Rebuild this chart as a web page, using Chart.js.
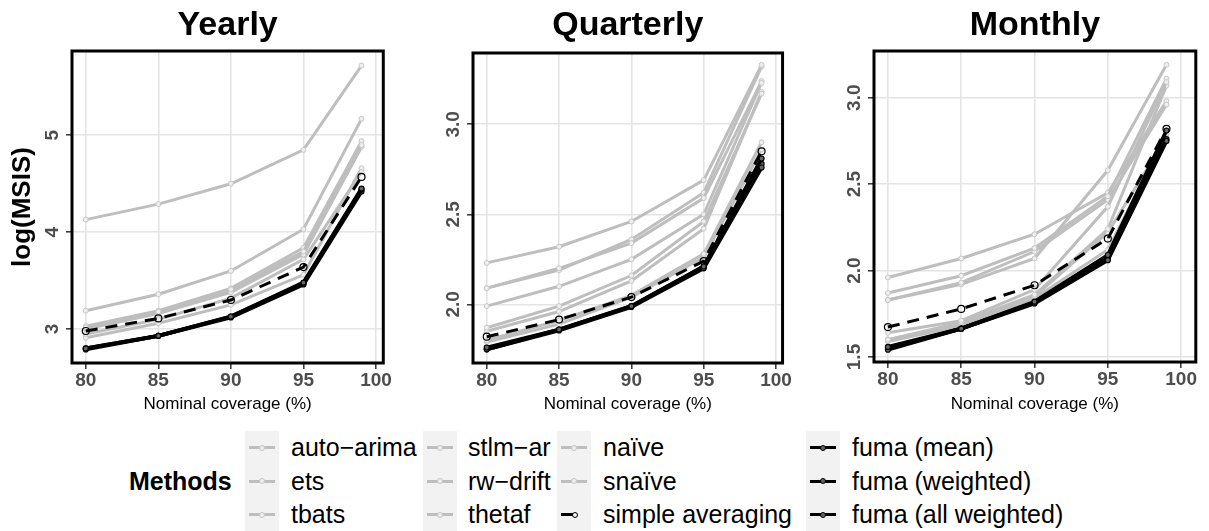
<!DOCTYPE html>
<html>
<head>
<meta charset="utf-8">
<script src="https://cdn.jsdelivr.net/npm/chart.js@4.4.1/dist/chart.umd.min.js"></script>
<style>
  body { margin: 0; background: #fff; width: 1209px; height: 531px; overflow: hidden; position: relative;
         font-family: "Liberation Sans", Arial, Helvetica, sans-serif; }
  canvas { position: absolute; top: 0; }
  .lg { position: absolute; height: 33.5px; line-height: 33.5px; font-size: 25px; color: #000; white-space: nowrap; }
  .lg-title { font-weight: bold; }
  .keybox { position: absolute; background: #F2F2F2; width: 34px; }
  .key { position: absolute; width: 34px; height: 33.5px; }
  .key .ln { position: absolute; left: 4px; width: 26px; top: 15.25px; height: 3px; }
  .key .dt { position: absolute; left: 14px; top: 13.75px; width: 4px; height: 4px; border-radius: 50%; border: 1px solid; }
</style>
</head>
<body>
<canvas id="yearly" width="392" height="420" style="left:0px"></canvas>
<canvas id="quarterly" width="392" height="420" style="left:400px"></canvas>
<canvas id="monthly" width="401" height="420" style="left:800px"></canvas>
<div id="legend"></div>

<script>
const coverage = [80, 85, 90, 95, 99];
const xTicks = [80, 85, 90, 95, 100];

const methods = ['auto\u2212arima', 'ets', 'tbats', 'stlm\u2212ar', 'rw\u2212drift', 'thetaf',
                 'naïve', 'snaïve', 'simple averaging', 'fuma (mean)', 'fuma (weighted)', 'fuma (all weighted)'];

// one row per method, same order as `methods`
const yearlyValues = [
    [3.02, 3.18, 3.41, 3.80, 4.90],
    [3.00, 3.16, 3.38, 3.77, 4.88],
    [2.95, 3.10, 3.32, 3.72, 4.62],
    [3.03, 3.19, 3.42, 3.84, 4.94],
    [3.19, 3.36, 3.60, 4.03, 5.17],
    [2.91, 3.06, 3.25, 3.56, 4.66],
    [4.13, 4.29, 4.50, 4.85, 5.72],
    [3.01, 3.17, 3.39, 3.78, 4.89],
    [2.98, 3.11, 3.30, 3.64, 4.57],
    [2.80, 2.93, 3.13, 3.48, 4.45],
    [2.80, 2.93, 3.13, 3.47, 4.44],
    [2.79, 2.93, 3.12, 3.46, 4.42]
];
const quarterlyValues = [
    [1.87, 1.99, 2.16, 2.46, 3.17],
    [1.85, 1.96, 2.13, 2.42, 3.18],
    [1.80, 1.91, 2.05, 2.28, 2.90],
    [1.99, 2.10, 2.25, 2.50, 3.23],
    [2.09, 2.20, 2.34, 2.59, 3.24],
    [1.79, 1.89, 2.04, 2.26, 2.86],
    [2.23, 2.32, 2.46, 2.69, 3.33],
    [2.09, 2.19, 2.36, 2.62, 3.32],
    [1.82, 1.915, 2.04, 2.24, 2.85],
    [1.76, 1.86, 1.99, 2.21, 2.81],
    [1.75, 1.855, 1.985, 2.20, 2.76],
    [1.75, 1.86, 1.99, 2.21, 2.78]
];
const monthlyValues = [
    [1.64, 1.71, 1.89, 2.37, 3.09],
    [1.60, 1.70, 1.86, 2.24, 3.07],
    [1.60, 1.69, 1.85, 2.22, 2.77],
    [1.59, 1.68, 1.84, 2.12, 2.79],
    [1.87, 1.97, 2.13, 2.43, 3.11],
    [1.83, 1.93, 2.11, 2.41, 2.96],
    [1.96, 2.07, 2.21, 2.45, 2.98],
    [1.83, 1.92, 2.07, 2.58, 3.19],
    [1.673, 1.778, 1.915, 2.185, 2.82],
    [1.558, 1.664, 1.82, 2.09, 2.81],
    [1.542, 1.664, 1.81, 2.06, 2.75],
    [1.55, 1.664, 1.815, 2.07, 2.76]
];

const yearlyYTicks = ['3', '4', '5'];
const quarterlyYTicks = ['2.0', '2.5', '3.0'];
const monthlyYTicks = ['1.5', '2.0', '2.5', '3.0'];

const FONT = '"Liberation Sans", Arial, Helvetica, sans-serif';
const GREY = '#BEBEBE';

// box, rotated y labels and panel title
const panelDecor = {
    id: 'panelDecor',
    afterDraw(chart, args, opts) {
        const {ctx, chartArea: {left, top, right, bottom}} = chart;
        const y = chart.scales.y;
        ctx.save();
        ctx.strokeStyle = '#000';
        ctx.lineWidth = 3;
        ctx.strokeRect(left, top, right - left, bottom - top);

        ctx.fillStyle = '#4D4D4D';
        ctx.font = 'bold 19px ' + FONT;
        ctx.textAlign = 'center';
        ctx.textBaseline = 'middle';
        opts.yLabels.forEach(lab => {
            const py = y.getPixelForValue(parseFloat(lab));
            ctx.save();
            ctx.translate(left - 19, py);
            ctx.rotate(-Math.PI / 2);
            ctx.fillText(lab, 0, 0);
            ctx.restore();
        });

        ctx.fillStyle = '#000';
        ctx.font = 'bold 34px ' + FONT;
        ctx.textBaseline = 'alphabetic';
        ctx.fillText(opts.title, (left + right) / 2, 35);
        ctx.restore();
    }
};

const makeDatasets = (values) => methods.map((m, i) => {
    const data = coverage.map((x, j) => ({x: x, y: values[i][j]}));
    if (i < 8) {
        return {label: m, data, borderColor: GREY, borderWidth: 3, order: 3,
                pointRadius: 2.5, pointBorderWidth: 1, pointBorderColor: '#C6C6C6', pointBackgroundColor: '#EEEEEE'};
    }
    if (i === 8) {
        return {label: m, data, borderColor: '#000', borderWidth: 3, borderDash: [12, 8], order: 2,
                pointRadius: 3.5, pointBorderWidth: 1.2, pointBorderColor: '#000', pointBackgroundColor: 'rgba(0,0,0,0)'};
    }
    return {label: m, data, borderColor: '#000', borderWidth: 3.8, order: 1,
            pointRadius: 2.5, pointBorderWidth: 1.2, pointBorderColor: '#000', pointBackgroundColor: '#666'};
});

const makePanel = (id, title, values, yLabels, yMin, yMax, xMax, yWidth, padTop, xHeight, yTitle) => {
    new Chart(document.getElementById(id), {
        type: 'line',
        data: {datasets: makeDatasets(values)},
        plugins: [panelDecor],
        options: {
            responsive: false,
            animation: false,
            layout: {padding: {top: padTop, right: 5, bottom: 0, left: 0}},
            plugins: {
                legend: {display: false},
                tooltip: {enabled: false},
                panelDecor: {title: title, yLabels: yLabels}
            },
            elements: {line: {tension: 0}},
            scales: {
                x: {
                    type: 'linear', min: 79.05, max: xMax,
                    afterBuildTicks: (s) => { s.ticks = xTicks.map(v => ({value: v})); },
                    afterFit: (s) => { s.height = xHeight; },
                    grid: {color: '#E4E4E4', lineWidth: 1.6, tickColor: '#333', tickLength: 6, tickWidth: 1.5},
                    border: {display: false},
                    ticks: {font: {family: FONT, size: 19, weight: 'bold'}, color: '#4D4D4D',
                            padding: 0, maxRotation: 0, autoSkip: false},
                    title: {display: true, text: 'Nominal coverage (%)', color: '#000',
                            font: {family: FONT, size: 17}, padding: {top: 0, bottom: 5.5}}
                },
                y: {
                    type: 'linear', min: yMin, max: yMax,
                    afterBuildTicks: (s) => { s.ticks = yLabels.map(v => ({value: parseFloat(v)})); },
                    afterFit: (s) => { s.width = yWidth; },
                    grid: {color: '#E4E4E4', lineWidth: 1.6, tickColor: '#333', tickLength: 6, tickWidth: 1.5},
                    border: {display: false},
                    ticks: {display: false},
                    title: {display: yTitle, text: 'log(MSIS)', color: '#000',
                            font: {family: FONT, size: 26, weight: 'bold'}, padding: {top: 7, bottom: 0}}
                }
            }
        }
    });
};

makePanel('yearly', 'Yearly', yearlyValues, yearlyYTicks, 2.65, 5.87, 100.5, 72, 51, 57, true);
makePanel('quarterly', 'Quarterly', quarterlyValues, quarterlyYTicks, 1.674, 3.396, 100.45, 73, 53, 57, false);
makePanel('monthly', 'Monthly', monthlyValues, monthlyYTicks, 1.471, 3.27, 101.0, 74, 51, 58, false);

// legend: 3 rows, filled column by column
const legend = document.getElementById('legend');
const keyLeft = [245, 423, 557, 806];
const textLeft = [291, 468, 603, 852];
const legendTop = 431;
const rowH = 33.5;

const title = document.createElement('div');
title.className = 'lg lg-title';
title.style.left = '129px';
title.style.top = (legendTop + rowH) + 'px';
title.textContent = 'Methods';
legend.appendChild(title);

keyLeft.forEach(x => {
    const b = document.createElement('div');
    b.className = 'keybox';
    b.style.left = x + 'px';
    b.style.top = legendTop + 'px';
    b.style.height = (rowH * 3) + 'px';
    legend.appendChild(b);
});

methods.forEach((m, i) => {
    const col = Math.floor(i / 3), row = i % 3;
    const top = legendTop + row * rowH;
    const key = document.createElement('div');
    key.className = 'key';
    key.style.left = keyLeft[col] + 'px';
    key.style.top = top + 'px';
    const ln = document.createElement('div');
    ln.className = 'ln';
    const dt = document.createElement('div');
    dt.className = 'dt';
    if (i < 8) {
        ln.style.background = GREY;
        dt.style.borderColor = '#C6C6C6';
        dt.style.background = '#EEEEEE';
    } else if (i === 8) {
        ln.style.background = '#000';
        ln.style.width = '12px';
        dt.style.borderColor = '#000';
        dt.style.background = '#F2F2F2';
        dt.style.left = '15px';
    } else {
        ln.style.background = '#000';
        dt.style.borderColor = '#000';
        dt.style.background = '#666';
    }
    key.appendChild(ln);
    key.appendChild(dt);
    legend.appendChild(key);

    const t = document.createElement('div');
    t.className = 'lg';
    t.style.left = textLeft[col] + 'px';
    t.style.top = top + 'px';
    t.textContent = m;
    legend.appendChild(t);
});
</script>
</body>
</html>
